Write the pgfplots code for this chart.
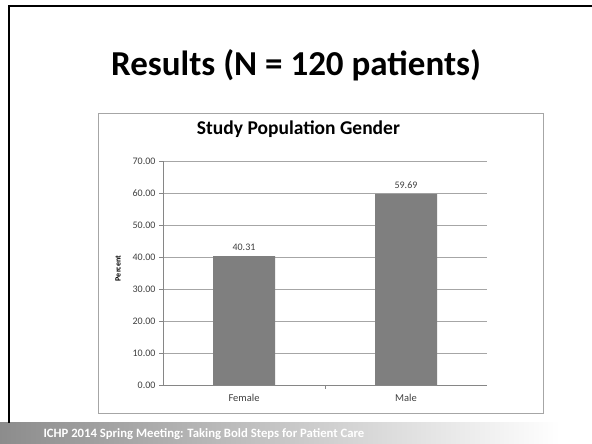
\documentclass[border=0pt]{standalone}
\usepackage{pgfplots}
\pgfplotsset{compat=1.18}
\usepackage{fontspec}
\setmainfont{Carlito}
\definecolor{bargray}{HTML}{7F7F7F}
\definecolor{gridgray}{HTML}{A6A6A6}
\definecolor{axgray}{HTML}{868686}
\definecolor{txtgray}{HTML}{404040}
\begin{document}
\begin{tikzpicture}[x=1pt,y=1pt]
\path[use as bounding box] (0,0) rectangle (592,444);
\fill[white] (0,0) rectangle (592,444);
% footer band
\shade[left color=black!45, right color=white] (0,0) rectangle (560,21);
\fill[white] (560,0) rectangle (592,21);
\node[anchor=west, text=white, font=\bfseries\fontsize{12.7}{14}\selectfont] at (40,9.5) {ICHP 2014 Spring Meeting: Taking Bold Steps for Patient Care};
% slide frame
\draw[black, line width=2pt] (9,21) -- (9,438) -- (592,438);
% slide title
\node[font=\bfseries\fontsize{35}{40}\selectfont] at (296,379) {Results (N = 120 patients)};
% chart box
\draw[black!35, line width=0.8pt] (98,31) rectangle (543,331);
\begin{axis}[
  at={(163pt,59pt)}, anchor=south west,
  scale only axis, width=324pt, height=224pt,
  xmin=-0.5, xmax=1.5, ymin=0, ymax=70,
  ytick={0,10,...,70},
  xtick={0,1}, xticklabels={Female,Male},
  minor xtick={0.5},
  ymajorgrids, grid style={gridgray, line width=0.6pt},
  axis x line*=bottom, axis y line*=left,
  axis line style={axgray, line width=0.8pt},
  tick align=outside,
  major tick length=4pt, minor tick length=4pt,
  x tick style={draw=none},
  minor x tick style={draw=axgray, line width=0.6pt},
  y tick style={axgray, line width=0.6pt},
  tick label style={font=\fontsize{10}{11}\selectfont, text=txtgray},
  /pgf/number format/assume math mode=true,
  yticklabel style={/pgf/number format/.cd, fixed, fixed zerofill, precision=2},
  xticklabel style={font=\fontsize{10.5}{11}\selectfont, yshift=-2pt},
  ylabel={Percent},
  ylabel style={font=\bfseries\fontsize{8}{9}\selectfont, at={(axis description cs:-0.139,0.52)}, anchor=center},
  title={Study Population Gender},
  title style={font=\bfseries\fontsize{19.5}{21}\selectfont, at={(axis description cs:0.418,1.116)}, anchor=center},
  ybar, bar width=62pt,
  nodes near coords,
  every node near coord/.append style={font=\fontsize{10}{11}\selectfont, text=txtgray, yshift=2pt, /pgf/number format/.cd, fixed, fixed zerofill, precision=2},
  clip=false,
]
\addplot[fill=bargray, draw=none] coordinates {(0,40.31) (1,59.69)};
\end{axis}
\end{tikzpicture}
\end{document}
